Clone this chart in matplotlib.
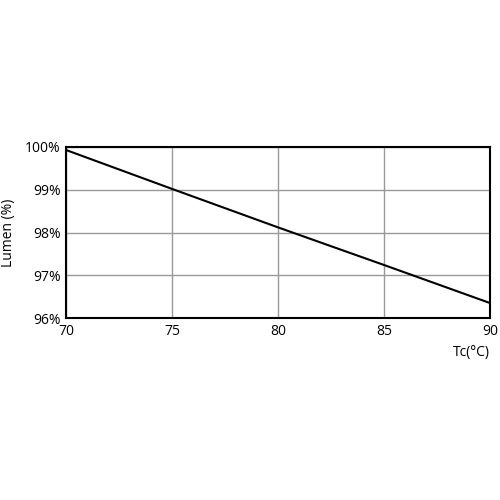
import matplotlib
matplotlib.use('Agg')
import matplotlib.pyplot as plt
from matplotlib.ticker import FuncFormatter

# データ
tc = [70, 75, 80, 85, 90]
lumen = [99.93, 99.02, 98.12, 97.24, 96.35]

x_ticks = [70, 75, 80, 85, 90]
y_ticks = [96, 97, 98, 99, 100]

plt.rcParams['font.family'] = ['Open Sans', 'DejaVu Sans']

fig = plt.figure(figsize=(5, 5), dpi=100)
ax = fig.add_axes([0.132, 0.364, 0.848, 0.342])

ax.plot(tc, lumen, color='black', lw=1.5)

ax.set_xlim(70, 90)
ax.set_ylim(96, 100)
ax.set_xticks(x_ticks)
ax.set_yticks(y_ticks)
ax.yaxis.set_major_formatter(FuncFormatter(lambda v, p: '%d%%' % v))
ax.grid(True, color='#999999', lw=1)
ax.tick_params(length=0, labelsize=10, pad=4)

for s in ax.spines.values():
    s.set_linewidth(1.5)

ax.set_ylabel('Lumen (%)', fontsize=10, labelpad=6)
ax.text(1.0, -0.2, 'Tc(°C)', transform=ax.transAxes, ha='right', va='center', fontsize=10)

fig.savefig('out.png', dpi=100)
